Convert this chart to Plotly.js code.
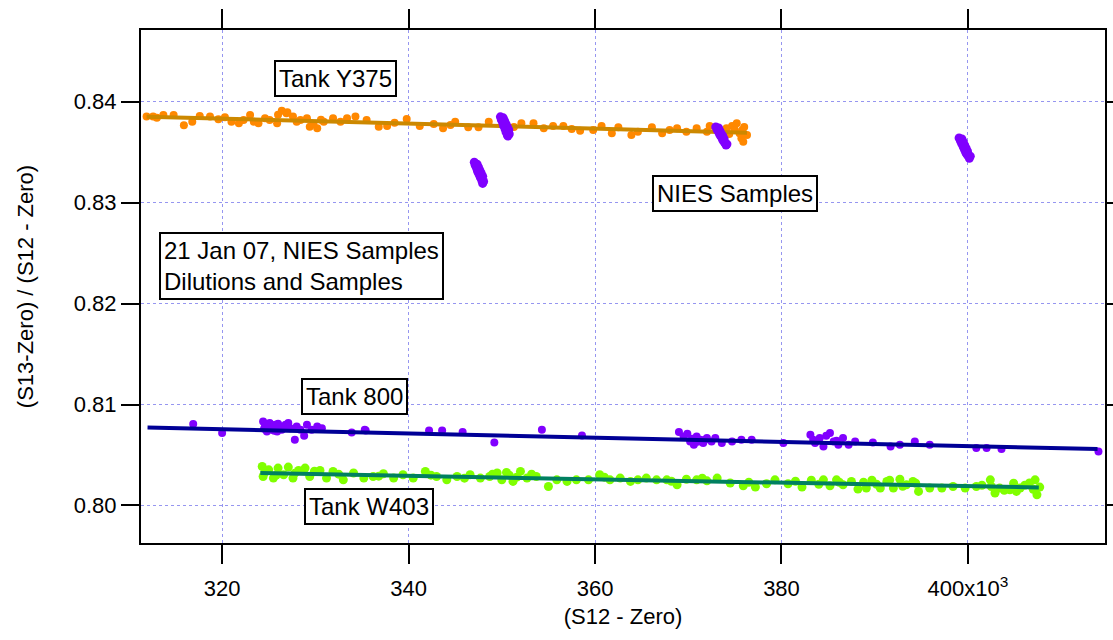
<!DOCTYPE html>
<html>
<head>
<meta charset="utf-8">
<script src="https://cdn.plot.ly/plotly-3.0.1.min.js"></script>
<style>html,body{margin:0;padding:0;background:#fff;}#chart{width:1113px;height:640px;}</style>
</head>
<body>
<div id="chart"></div>
<script>
// ---- Tank Y375 (orange) ----
const y375X = [311.9,312.6,313.7,314.8,315.9,316.8,317.6,318.7,319.6,320.3,321.0,321.8,322.3,323.0,323.4,323.9,324.6,325.1,325.9,326.4,326.9,327.6,328.4,329.1,329.4,330.2,330.9,331.9,332.7,333.4,334.3,335.5,336.8,337.7,339.8,341.2,342.7,343.7,345.0,346.4,347.5,348.6,350.5,352.1,353.4,354.5,355.5,356.6,358.4,359.8,360.7,361.8,362.5,363.9,364.6,366.1,367.2,368.0,368.8,369.8,370.9,372.0,372.3,374.1,374.7,375.0,375.2,375.5,375.7,375.9,376.3,326.0,327.0,328.0,329.8,330.6,313.0,338.5,344.5,351.3,357.5,373.0,374.4,375.8,376.0];
const y375Y = [0.83852,0.83852,0.83868,0.83868,0.83766,0.83802,0.83858,0.83852,0.83825,0.83845,0.83802,0.83786,0.83819,0.83868,0.83802,0.83786,0.83836,0.83819,0.83786,0.83911,0.83885,0.83852,0.83819,0.83836,0.83752,0.83737,0.83802,0.83836,0.83802,0.83836,0.83852,0.83819,0.83752,0.83759,0.83829,0.83759,0.83779,0.83737,0.83802,0.83747,0.83747,0.83802,0.83769,0.83786,0.83786,0.83737,0.83759,0.83759,0.83713,0.83720,0.83759,0.83687,0.83747,0.83670,0.83703,0.83747,0.83687,0.83720,0.83737,0.83703,0.83737,0.83703,0.83759,0.83737,0.83759,0.83720,0.83786,0.83687,0.83637,0.83604,0.83670,0.83870,0.83895,0.83800,0.83780,0.83820,0.83840,0.83790,0.83770,0.83750,0.83730,0.83740,0.83680,0.83720,0.83750];
const y375FitX = [311.9, 376.3];
const y375FitY = [0.83851, 0.83693];

// ---- Tank W403 (green) ----
const w403X = [324.3,324.4,325.0,325.5,326.0,326.6,327.1,327.6,328.2,328.9,329.4,330.5,331.2,331.9,333.0,334.1,335.2,336.2,337.3,338.4,339.4,340.5,341.8,343.0,344.1,345.2,346.6,347.7,348.7,349.5,350.0,350.5,351.2,352.0,352.7,353.7,355.0,355.9,357.0,358.0,359.3,360.5,361.6,362.7,363.8,364.6,365.5,366.6,367.7,368.8,369.8,370.9,372.0,373.1,374.5,375.9,377.2,378.4,379.3,380.7,382.2,383.2,384.5,385.2,385.9,386.6,387.5,388.2,389.1,389.7,390.6,391.3,392.0,392.7,393.4,394.1,394.7,395.9,397.2,398.4,399.7,400.9,402.4,402.5,402.9,403.4,404.5,405.2,405.6,406.6,407.2,407.4,407.7,324.6,325.8,327.8,329.9,332.5,336.8,342.4,346.0,349.0,350.8,351.6,353.2,361.0,368.2,371.5,376.5,381.5,384.0,386.2,388.8,390.2,391.6,393.0,394.4,401.5,403.9,404.9,406.1,407.0];
const w403Y = [0.80386,0.80287,0.80353,0.80271,0.80370,0.80304,0.80380,0.80271,0.80347,0.80370,0.80287,0.80347,0.80271,0.80337,0.80254,0.80321,0.80271,0.80287,0.80314,0.80271,0.80304,0.80271,0.80337,0.80287,0.80254,0.80287,0.80304,0.80271,0.80287,0.80321,0.80254,0.80327,0.80238,0.80337,0.80271,0.80287,0.80188,0.80254,0.80238,0.80254,0.80254,0.80304,0.80254,0.80271,0.80238,0.80254,0.80271,0.80254,0.80254,0.80205,0.80260,0.80254,0.80244,0.80271,0.80222,0.80195,0.80182,0.80215,0.80254,0.80215,0.80182,0.80250,0.80254,0.80195,0.80254,0.80205,0.80238,0.80162,0.80172,0.80250,0.80172,0.80238,0.80172,0.80260,0.80205,0.80238,0.80139,0.80172,0.80172,0.80188,0.80172,0.80188,0.80254,0.80188,0.80123,0.80172,0.80155,0.80139,0.80172,0.80222,0.80254,0.80106,0.80182,0.80330,0.80300,0.80320,0.80340,0.80310,0.80290,0.80300,0.80270,0.80310,0.80300,0.80280,0.80310,0.80280,0.80240,0.80270,0.80230,0.80240,0.80210,0.80230,0.80230,0.80210,0.80250,0.80190,0.80220,0.80200,0.80150,0.80220,0.80200,0.80160];
const w403FitX = [324.1, 407.6];
const w403FitY = [0.80321, 0.80178];

// ---- Tank 800 (purple points, navy fit) ----
const t800X = [316.9,320.0,324.4,324.6,324.8,325.1,325.3,325.7,325.9,326.2,326.4,326.8,327.1,327.3,327.8,328.0,328.4,328.8,329.1,329.6,330.2,330.7,333.9,335.3,335.4,342.2,343.6,345.8,349.2,354.3,358.6,369.0,369.5,369.9,370.2,370.6,370.9,371.3,371.6,372.0,372.5,372.9,373.6,374.7,375.7,376.8,380.2,383.1,383.6,384.1,384.5,385.2,385.6,386.1,386.6,387.2,387.9,389.8,391.7,392.7,394.3,395.9,400.9,402.0,403.6,414.0,324.5,324.9,325.4,325.6,326.0,326.6,370.4,371.0,371.8,383.4,384.8,385.9];
const t800Y = [0.80806,0.80717,0.80832,0.80782,0.80733,0.80816,0.80750,0.80799,0.80733,0.80782,0.80750,0.80799,0.80816,0.80766,0.80650,0.80782,0.80750,0.80690,0.80799,0.80750,0.80782,0.80766,0.80723,0.80750,0.80743,0.80743,0.80743,0.80727,0.80624,0.80750,0.80693,0.80727,0.80683,0.80710,0.80634,0.80601,0.80683,0.80650,0.80618,0.80667,0.80634,0.80667,0.80618,0.80634,0.80650,0.80650,0.80618,0.80700,0.80618,0.80667,0.80584,0.80717,0.80634,0.80601,0.80667,0.80601,0.80634,0.80624,0.80584,0.80601,0.80634,0.80601,0.80568,0.80568,0.80558,0.80535,0.80760,0.80800,0.80770,0.80740,0.80810,0.80770,0.80660,0.80630,0.80650,0.80650,0.80690,0.80640];
const t800FitX = [312.0, 413.9];
const t800FitY = [0.80772, 0.80558];

// ---- NIES Samples (purple clusters) ----
const niesX = [347.05,347.15,347.3,347.4,347.55,347.7,347.85,347.95,347.35,347.5,347.65,347.8,347.95,348.05,
               349.85,349.95,350.1,350.2,350.35,350.45,350.6,350.65,350.15,350.3,350.45,350.6,350.75,350.8,
               372.95,373.1,373.25,373.4,373.55,373.7,373.85,374.05,373.25,373.4,373.55,373.7,373.85,374.15,
               399.05,399.2,399.35,399.5,399.65,399.8,399.95,400.15,399.35,399.5,399.65,399.8,399.95,400.25];
const niesY = [0.8340,0.8337,0.8334,0.8331,0.8328,0.8325,0.8322,0.8319,0.8338,0.8335,0.8332,0.8329,0.8326,0.8321,
               0.8385,0.8382,0.8379,0.8376,0.8373,0.8370,0.8367,0.8366,0.8384,0.8381,0.8378,0.8375,0.8372,0.8368,
               0.8375,0.8372,0.8370,0.8367,0.8365,0.8362,0.8360,0.8357,0.8374,0.8371,0.8368,0.8366,0.8363,0.8358,
               0.8364,0.8361,0.8358,0.8355,0.8352,0.8349,0.8347,0.8344,0.8363,0.8360,0.8357,0.8354,0.8351,0.8346];

// ---- Axis ticks ----
const xTickVals = [320, 340, 360, 380, 400];
const xTickText = ['320', '340', '360', '380', '400x10<sup>3</sup>'];
const yTickVals = [0.80, 0.81, 0.82, 0.83, 0.84];
const yTickText = ['0.80', '0.81', '0.82', '0.83', '0.84'];

const ORANGE = 'rgb(255,136,0)', ORANGE_FIT = 'rgb(204,136,0)';
const PURPLE = 'rgb(128,0,255)', NAVY = 'rgb(0,0,150)';
const GREEN = 'rgb(128,255,0)', GREEN_FIT = 'rgb(0,128,96)';

function pts(x, y, c, s) {
  return {type: 'scatter', mode: 'markers', x: x, y: y, marker: {color: c, size: s || 8, line: {width: 0}}, hoverinfo: 'skip', showlegend: false};
}
function fit(x, y, c) {
  return {type: 'scatter', mode: 'lines', x: x, y: y, line: {color: c, width: 4}, hoverinfo: 'skip', showlegend: false};
}

const data = [
  pts(y375X, y375Y, ORANGE, 8), fit(y375FitX, y375FitY, ORANGE_FIT),
  pts(w403X, w403Y, GREEN, 9), fit(w403FitX, w403FitY, GREEN_FIT),
  pts(t800X, t800Y, PURPLE, 8), fit(t800FitX, t800FitY, NAVY),
  pts(niesX, niesY, PURPLE, 9)
];

const FONT = 'Arial, "Liberation Sans", sans-serif';
function box(text, x, y, align) {
  return {text: text, x: x, y: y, xref: 'x', yref: 'y', showarrow: false,
    font: {family: FONT, size: 24, color: '#000'}, bgcolor: '#fff', bordercolor: '#000',
    borderwidth: 2, borderpad: 3, align: align || 'center'};
}

const layout = {
  width: 1113, height: 640,
  margin: {l: 141, r: 8, t: 30, b: 97},
  paper_bgcolor: '#fff', plot_bgcolor: '#fff',
  font: {family: FONT, color: '#000'},
  showlegend: false,
  xaxis: {
    range: [311.3, 414.7], tickmode: 'array', tickvals: xTickVals, ticktext: xTickText,
    ticks: 'outside', ticklen: 19, tickwidth: 2, tickcolor: '#000',
    showline: true, linecolor: '#000', linewidth: 2, mirror: 'ticks',
    showgrid: true, gridcolor: 'rgb(150,150,240)', gridwidth: 1, griddash: '3px,3px',
    zeroline: false, tickfont: {size: 22, family: FONT}, ticklabelstandoff: 6,
    title: {text: '(S12 - Zero)', font: {size: 22, family: FONT}, standoff: 8}
  },
  yaxis: {
    range: [0.79628, 0.84710], tickmode: 'array', tickvals: yTickVals, ticktext: yTickText,
    ticks: 'outside', ticklen: 18, tickwidth: 2, tickcolor: '#000',
    showline: true, linecolor: '#000', linewidth: 2, mirror: 'ticks',
    showgrid: true, gridcolor: 'rgb(150,150,240)', gridwidth: 1, griddash: '3px,3px',
    zeroline: false, tickfont: {size: 22, family: FONT},
    title: {text: '(S13-Zero) / (S12 - Zero)', font: {size: 22, family: FONT}, standoff: 34}
  },
  annotations: [
    box('Tank Y375', 332.2, 0.84225),
    box('NIES Samples', 375.0, 0.83093),
    box('21 Jan 07, NIES Samples<br>Dilutions and Samples', 328.5, 0.82373, 'left'),
    box('Tank 800', 334.2, 0.81076),
    box('Tank W403', 335.8, 0.79994)
  ]
};

Plotly.newPlot('chart', data, layout, {staticPlot: true, displayModeBar: false});
</script>
</body>
</html>
